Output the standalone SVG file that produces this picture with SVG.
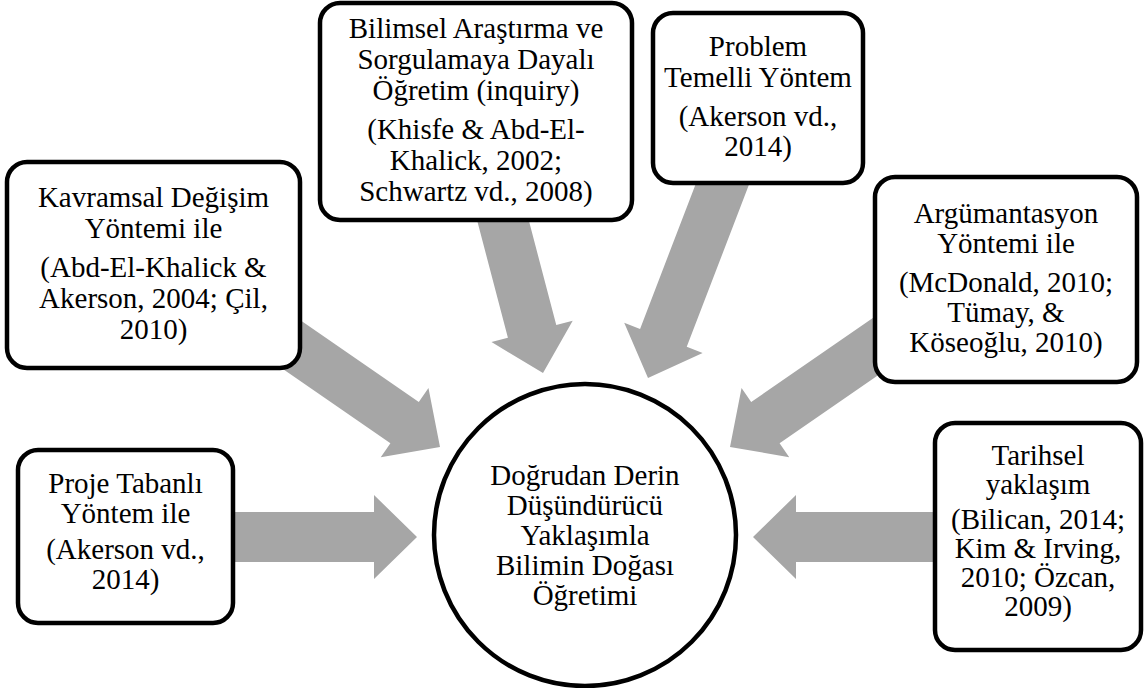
<svg xmlns="http://www.w3.org/2000/svg" width="1148" height="688" viewBox="0 0 1148 688">
  <style>
    .box { fill: #ffffff; stroke: #000000; stroke-width: 4.5; }
    .arrow { fill: #a6a6a6; stroke: none; }
    text { font-family: "Liberation Serif", "Times New Roman", serif; font-size: 29px; fill: #000000; text-anchor: middle; }
  </style>
  <rect width="1148" height="688" fill="#ffffff"/>
  <g id="connectors">
    <polygon class="arrow" transform="translate(440,447) rotate(34.6)" points="-200,-25 -43,-25 -43,-42 0,0 -43,42 -43,25 -200,25"/>
    <polygon class="arrow" transform="translate(543,373) rotate(75.3)" points="-180,-25 -43,-25 -43,-42 0,0 -43,42 -43,25 -180,25"/>
    <polygon class="arrow" transform="translate(648,378) rotate(111)" points="-228,-25 -43,-25 -43,-42 0,0 -43,42 -43,25 -228,25"/>
    <polygon class="arrow" transform="translate(730,447) rotate(145.4)" points="-200,-25 -43,-25 -43,-42 0,0 -43,42 -43,25 -200,25"/>
    <polygon class="arrow" transform="translate(417,537)" points="-217,-25 -43,-25 -43,-42 0,0 -43,42 -43,25 -217,25"/>
    <polygon class="arrow" transform="translate(753,537) rotate(180)" points="-217,-25 -43,-25 -43,-42 0,0 -43,42 -43,25 -217,25"/>
  </g>
  <g id="center">
    <circle class="box" cx="585" cy="535" r="151"/>
    <text x="585" y="485">Doğrudan Derin</text>
    <text x="585" y="515">Düşündürücü</text>
    <text x="585" y="545">Yaklaşımla</text>
    <text x="585" y="575">Bilimin Doğası</text>
    <text x="585" y="605">Öğretimi</text>
  </g>
  <g id="kavramsal">
    <rect class="box" x="7" y="162" width="293" height="206" rx="20"/>
    <text x="153.5" y="207">Kavramsal Değişim</text>
    <text x="153.5" y="238">Yöntemi ile</text>
    <text x="153.5" y="277">(Abd-El-Khalick &amp;</text>
    <text x="153.5" y="308">Akerson, 2004; Çil,</text>
    <text x="153.5" y="339">2010)</text>
  </g>
  <g id="bilimsel">
    <rect class="box" x="320" y="3" width="312" height="217" rx="20"/>
    <text x="476" y="38">Bilimsel Araştırma ve</text>
    <text x="476" y="69">Sorgulamaya Dayalı</text>
    <text x="476" y="100">Öğretim (inquiry)</text>
    <text x="476" y="139">(Khisfe &amp; Abd-El-</text>
    <text x="476" y="170">Khalick, 2002;</text>
    <text x="476" y="201">Schwartz vd., 2008)</text>
  </g>
  <g id="problem">
    <rect class="box" x="653" y="13" width="210" height="170" rx="20"/>
    <text x="758" y="56">Problem</text>
    <text x="758" y="87">Temelli Yöntem</text>
    <text x="758" y="126">(Akerson vd.,</text>
    <text x="758" y="156">2014)</text>
  </g>
  <g id="argumantasyon">
    <rect class="box" x="875" y="177" width="262" height="205" rx="20"/>
    <text x="1006" y="223">Argümantasyon</text>
    <text x="1006" y="253">Yöntemi ile</text>
    <text x="1006" y="292">(McDonald, 2010;</text>
    <text x="1006" y="322">Tümay, &amp;</text>
    <text x="1006" y="352">Köseoğlu, 2010)</text>
  </g>
  <g id="proje">
    <rect class="box" x="18" y="450" width="215" height="173" rx="20"/>
    <text x="125.5" y="493">Proje Tabanlı</text>
    <text x="125.5" y="523">Yöntem ile</text>
    <text x="125.5" y="559">(Akerson vd.,</text>
    <text x="125.5" y="589">2014)</text>
  </g>
  <g id="tarihsel">
    <rect class="box" x="935" y="423" width="206" height="227" rx="20"/>
    <text x="1038" y="465">Tarihsel</text>
    <text x="1038" y="494">yaklaşım</text>
    <text x="1038" y="529">(Bilican, 2014;</text>
    <text x="1038" y="558">Kim &amp; Irving,</text>
    <text x="1038" y="587">2010; Özcan,</text>
    <text x="1038" y="616">2009)</text>
  </g>
</svg>
